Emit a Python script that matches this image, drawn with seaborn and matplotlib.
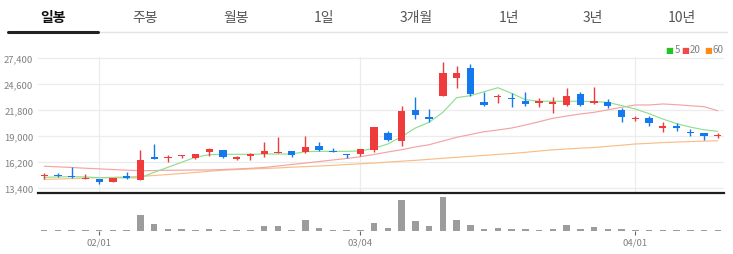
import matplotlib
matplotlib.use("Agg")
import matplotlib.pyplot as plt
import seaborn as sns
import numpy as np

# ---------------- data ----------------
tabs = ["일봉", "주봉", "월봉", "1일", "3개월", "1년", "3년", "10년"]
opens = [14650, 14700, 14730, 14400, 14350, 14080, 14650, 14290, 16700, 16600,
         16800, 16600, 17240, 17490, 16490, 16810, 17090, 17200, 17380, 17280,
         17920, 17420, 17030, 17100, 17490, 19350, 18490, 21770, 21080, 23310,
         25210, 26360, 22660, 23180, 23070, 22800, 22600, 22500, 22370, 23490,
         22520, 22660, 21800, 20850, 20910, 19900, 19980, 19460, 19320, 18990]
highs = [15000, 15000, 15650, 14900, 14400, 14520, 15100, 17460, 18140, 16950,
         17000, 17100, 17700, 17500, 16850, 17170, 18320, 18890, 17400, 18970,
         18390, 17710, 17030, 17600, 20000, 19500, 22230, 23170, 21910, 26970,
         26510, 26720, 23710, 23520, 23600, 23710, 23090, 23230, 24170, 23710,
         24280, 22990, 21980, 21190, 21120, 20480, 20400, 19750, 19350, 19320]
lows = [14370, 14600, 14500, 14400, 13850, 14080, 14400, 14250, 16490, 16230,
        16650, 16490, 16810, 16590, 16420, 16450, 16770, 17200, 16700, 17200,
        17380, 17280, 16600, 16880, 17240, 18430, 17890, 20860, 20510, 23310,
        24200, 23310, 22260, 22590, 22160, 22260, 22160, 21450, 22260, 22260,
        22410, 22050, 20540, 20650, 20040, 19460, 19570, 19030, 18540, 18750]
closes = [14750, 14650, 14560, 14480, 14100, 14510, 14450, 16450, 16550, 16700,
          16990, 17060, 17600, 16700, 16740, 17030, 17380, 17300, 16990, 17780,
          17490, 17280, 16960, 17570, 20000, 18570, 21720, 21290, 20800, 25750,
          25750, 23520, 22340, 23260, 22990, 22410, 22680, 22580, 23340, 22370,
          22740, 22230, 21010, 20930, 20370, 19980, 19900, 19290, 19030, 19060]
ma5 = [14550, 14590, 14620, 14590, 14510, 14510, 14480, 14510, 15090, 15630,
       16170, 16710, 16990, 17030, 17030, 17030, 17060, 17060, 17060, 17310,
       17350, 17350, 17350, 17390, 17680, 18140, 18930, 19860, 20480, 21550,
       23130, 23340, 23770, 24200, 23600, 22910, 22740, 22740, 22740, 22740,
       22700, 22630, 22270, 21910, 21400, 20830, 20330, 19960, 19670, 19500]
ma20 = [15740, 15680, 15610, 15530, 15460, 15390, 15320, 15260, 15280, 15310,
        15320, 15340, 15340, 15390, 15450, 15520, 15610, 15770, 15930, 16090,
        16250, 16420, 16580, 16770, 17010, 17280, 17520, 17820, 18060, 18460,
        18860, 19160, 19460, 19650, 19860, 20180, 20540, 20910, 21150, 21370,
        21550, 21820, 22090, 22340, 22340, 22450, 22370, 22260, 22160, 21720]
ma60 = [14320, 14370, 14410, 14470, 14510, 14550, 14600, 14640, 14750, 14850,
        14960, 15080, 15200, 15320, 15380, 15450, 15500, 15560, 15640, 15700,
        15770, 15840, 15930, 16010, 16090, 16190, 16290, 16380, 16490, 16600,
        16710, 16810, 16910, 17020, 17120, 17240, 17380, 17510, 17600, 17690,
        17760, 17890, 18010, 18140, 18210, 18290, 18350, 18400, 18450, 18490]
volume = [2000, 2000, 4000, 2000, 2000, 2000, 2000, 47000, 20000, 5000,
          5000, 4000, 7000, 4000, 2000, 2000, 14000, 15000, 2000, 32000,
          8000, 4000, 2000, 4000, 22000, 10000, 89000, 29000, 14000, 98000,
          32000, 18000, 7000, 8000, 5000, 7000, 4000, 7000, 18000, 7000,
          11000, 5000, 5000, 2000, 4000, 4000, 2000, 2000, 2000, 2000]
price_ticks = [13400, 16200, 19000, 21800, 24600, 27400]
date_tick_idx = [4, 23, 43]
date_tick_labels = ["02/01", "03/04", "04/01"]
ma_names = ["5", "20", "60"]

# ---------------- style ----------------
sns.set_theme(style="white")
plt.rcParams["font.family"] = ["Noto Sans CJK KR", "DejaVu Sans"]

W, H = 733, 255
fig = plt.figure(figsize=(W / 100, H / 100), dpi=100)

def fx(px):
    return px / W

def fy(py):
    return 1 - py / H

RED = "#EF3B3B"
BLUE = "#1479EE"
idx = np.arange(len(opens))
o = np.array(opens, float)
c = np.array(closes, float)
up = c >= o
colors = np.where(up, RED, BLUE)

# ---------------- price axes ----------------
ax = fig.add_axes([fx(38), fy(194), fx(724) - fx(38), fy(58) - fy(194)])
ax.set_xlim(-0.45, len(opens) - 0.55)
ax.set_ylim(12862, 27508)

ax.set_yticks(price_ticks)
ax.set_yticklabels([f"{v:,}" for v in price_ticks])
ax.set_xticks(date_tick_idx)
ax.set_xticklabels([])
ax.grid(True, color="#ececec", lw=0.9)
ax.tick_params(axis="y", length=0, pad=3.5, labelsize=6.8, labelcolor="#808080")
ax.tick_params(axis="x", length=0)
for s in ["top", "right", "left"]:
    ax.spines[s].set_visible(False)
ax.spines["bottom"].set_color("#1e1e1e")
ax.spines["bottom"].set_linewidth(1.6)

sns.lineplot(x=idx, y=ma60, ax=ax, color="#F8BE86", lw=0.85, zorder=2)
sns.lineplot(x=idx, y=ma20, ax=ax, color="#F5A3A3", lw=0.85, zorder=2)
sns.lineplot(x=idx, y=ma5, ax=ax, color="#8FDF8F", lw=0.85, zorder=2)

body_bottom = np.minimum(o, c)
body_h = np.maximum(np.abs(c - o), 130)
ax.vlines(idx, lows, highs, colors=colors, lw=1.0, zorder=3)
ax.bar(idx, body_h, bottom=body_bottom, width=0.53, color=colors, zorder=4, linewidth=0)
ax.set_xlabel("")
ax.set_ylabel("")

# ---------------- volume axes ----------------
axv = fig.add_axes([fx(38), fy(232), fx(724) - fx(38), fy(196) - fy(232)])
sns.barplot(x=idx, y=volume, ax=axv, color="#9c9c9c", saturation=1, width=0.48, linewidth=0)
axv.set_xlim(-0.45, len(opens) - 0.55)
axv.set_ylim(0, 103800)
axv.set_yticks([])
axv.set_xticks(date_tick_idx)
axv.set_xticklabels(date_tick_labels)
axv.tick_params(axis="x", length=3, width=0.8, color="#666666", pad=1.5,
                labelsize=6.8, labelcolor="#808080", direction="out", bottom=True)
for s in ["top", "right", "left", "bottom"]:
    axv.spines[s].set_visible(False)
axv.set_xlabel("")
axv.set_ylabel("")

# ---------------- tab bar ----------------
tab_x = [53, 145, 236, 324, 416, 509, 593, 682]
for i, (t, x) in enumerate(zip(tabs, tab_x)):
    fig.text(fx(x), fy(18), t, ha="center", va="center", fontsize=10,
             color="#111111" if i == 0 else "#555555",
             fontweight="bold" if i == 0 else "normal")
fig.add_artist(plt.Line2D([fx(98), fx(727)], [fy(33), fy(33)], color="#e3e3e3", lw=1.0))
fig.add_artist(plt.Line2D([fx(8), fx(98)], [fy(33), fy(33)], color="#222222", lw=2.2))

# ---------------- MA legend ----------------
leg_cols = ["#22C322", "#F24848", "#FF8C1A"]
sq_x = [669.5, 685, 708]
txt_x = [674.5, 689.5, 712.5]
for name, col, sx, tx in zip(ma_names, leg_cols, sq_x, txt_x):
    fig.text(fx(sx), fy(50), "■", ha="center", va="center", fontsize=6,
             color=col, family="DejaVu Sans")
    fig.text(fx(tx), fy(50.5), name, ha="left", va="center", fontsize=7, color="#808080")

fig.savefig("out.png", dpi=100)
